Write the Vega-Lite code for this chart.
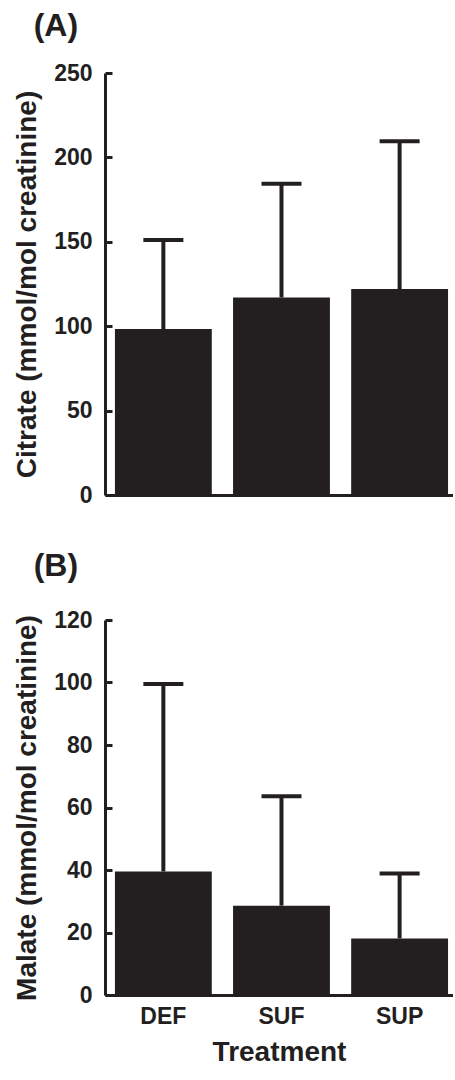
{
  "$schema": "https://vega.github.io/schema/vega-lite/v6.json",
  "padding": {"left": 13, "top": 10, "right": 0, "bottom": 0},
  "spacing": 43,
  "datasets": {
    "citrate": [
      {"Treatment": "DEF", "mean": 98.3, "upper": 151},
      {"Treatment": "SUF", "mean": 117, "upper": 184.4},
      {"Treatment": "SUP", "mean": 122, "upper": 209.5}
    ],
    "malate": [
      {"Treatment": "DEF", "mean": 39.5, "upper": 99.5},
      {"Treatment": "SUF", "mean": 28.6, "upper": 63.6},
      {"Treatment": "SUP", "mean": 18.1, "upper": 38.9}
    ]
  },
  "config": {
    "font": "Liberation Sans",
    "view": {"stroke": null},
    "title": {"fontSize": 32, "fontWeight": "bold", "color": "#231f20", "anchor": "start", "frame": "bounds"},
    "axis": {
      "grid": false,
      "domainColor": "#231f20",
      "domainWidth": 3,
      "tickColor": "#231f20",
      "tickWidth": 3,
      "labelFont": "Liberation Sans",
      "labelFontSize": 23,
      "labelFontWeight": "bold",
      "labelColor": "#231f20",
      "titleFont": "Liberation Sans",
      "titleFontSize": 28,
      "titleFontWeight": "bold",
      "titleColor": "#231f20"
    },
    "axisY": {"tickSize": -7, "labelPadding": 20, "titlePadding": 12},
    "axisX": {"ticks": false, "labelPadding": 10, "labelAngle": 0, "titlePadding": 10}
  },
  "vconcat": [
    {
      "title": {"text": "(A)", "dx": 20, "offset": 19},
      "width": 348,
      "height": 422,
      "data": {"name": "citrate"},
      "encoding": {
        "x": {"field": "Treatment", "type": "nominal", "sort": null,
              "scale": {"paddingInner": 0.18, "paddingOuter": 0.063, "align": 0.667},
              "axis": {"labels": false, "title": null}}
      },
      "layer": [
        {"mark": {"type": "bar", "color": "#231f20", "opacity": 1},
         "encoding": {"y": {"field": "mean", "type": "quantitative", "title": "Citrate (mmol/mol creatinine)",
                            "scale": {"domain": [0, 250], "nice": false},
                            "axis": {"values": [0, 50, 100, 150, 200, 250]}}}},
        {"mark": {"type": "rule", "color": "#231f20", "strokeWidth": 4, "opacity": 1},
         "encoding": {"y": {"field": "mean", "type": "quantitative", "title": "Citrate (mmol/mol creatinine)"},
                      "y2": {"field": "upper"}}},
        {"mark": {"type": "tick", "color": "#231f20", "thickness": 4, "size": 40, "opacity": 1},
         "encoding": {"y": {"field": "upper", "type": "quantitative", "title": "Citrate (mmol/mol creatinine)"}}}
      ]
    },
    {
      "title": {"text": "(B)", "dx": 20, "offset": 26},
      "width": 348,
      "height": 375,
      "data": {"name": "malate"},
      "encoding": {
        "x": {"field": "Treatment", "type": "nominal", "sort": null,
              "scale": {"paddingInner": 0.18, "paddingOuter": 0.063, "align": 0.667},
              "axis": {"title": "Treatment"}}
      },
      "layer": [
        {"mark": {"type": "bar", "color": "#231f20", "opacity": 1},
         "encoding": {"y": {"field": "mean", "type": "quantitative", "title": "Malate (mmol/mol creatinine)",
                            "scale": {"domain": [0, 120], "nice": false},
                            "axis": {"values": [0, 20, 40, 60, 80, 100, 120]}}}},
        {"mark": {"type": "rule", "color": "#231f20", "strokeWidth": 4, "opacity": 1},
         "encoding": {"y": {"field": "mean", "type": "quantitative", "title": "Malate (mmol/mol creatinine)"},
                      "y2": {"field": "upper"}}},
        {"mark": {"type": "tick", "color": "#231f20", "thickness": 4, "size": 40, "opacity": 1},
         "encoding": {"y": {"field": "upper", "type": "quantitative", "title": "Malate (mmol/mol creatinine)"}}}
      ]
    }
  ]
}
